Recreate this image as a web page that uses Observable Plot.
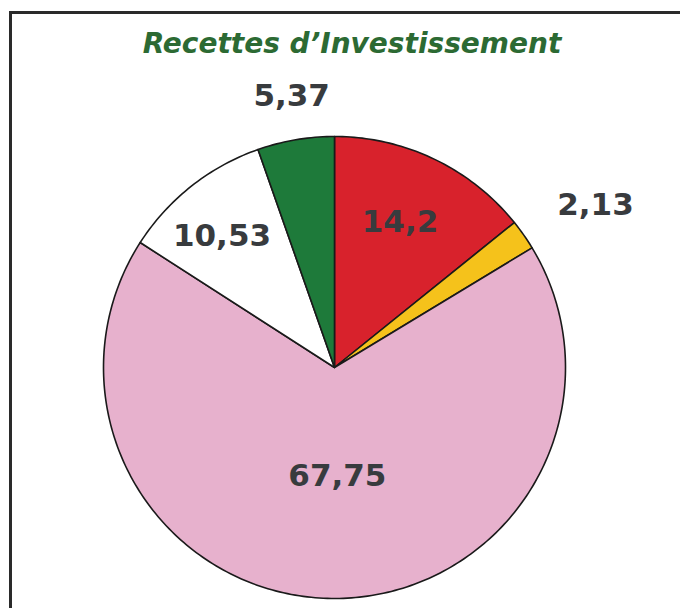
<!DOCTYPE html>
<html><head><meta charset="utf-8">
<script src="https://cdn.jsdelivr.net/npm/d3@7"></script>
<script src="https://cdn.jsdelivr.net/npm/@observablehq/plot@0.6"></script>
<style>
html,body{margin:0;padding:0;background:#fff;width:680px;height:608px;overflow:hidden}
#wrap{position:relative;width:680px;height:608px}
#frame{position:absolute;left:9px;top:11px;right:-10px;bottom:-10px;border-top:3px solid #2a2a2a;border-left:3px solid #2a2a2a}
#title{position:absolute;left:0;top:27px;width:704px;text-align:center;font:italic bold 28px "DejaVu Sans",sans-serif;color:#2c6a33}
#chart{position:absolute;left:0;top:70px}
</style></head>
<body><div id="wrap"><div id="frame"></div><div id="title">Recettes d’Investissement</div><div id="chart"></div></div>
<script>
// Data (clockwise from 12 o'clock)
const categories = ["A","B","C","D","E"];
const values = [14.2, 2.13, 67.75, 10.53, 5.37];
const labels = ["14,2","2,13","67,75","10,53","5,37"];
const colors = ["#d8222c","#f5c21b","#e7b1cd","#ffffff","#1e7a3a"];

// label placement (radius factor, angular nudge in degrees)
const labelRadius = [0.69, 1.33, 0.47, 0.75, 1.19];
const labelNudge = [-1.3, 3.2, -2.3, -2.2, 0.7];

const total = d3.sum(values);
const rad = Math.PI/180;
let acc = 0;
const slices = values.map((v,i)=>{
  const a0 = acc/total*360; acc += v; const a1 = acc/total*360;
  return {cat:categories[i], a0, a1, label:labels[i], color:colors[i], i};
});
const pts = [];
for (const s of slices){
  pts.push({cat:s.cat, x:0, y:0});
  const n = Math.max(2, Math.ceil(s.a1 - s.a0));
  for (let k=0;k<=n;k++){
    const a = (s.a0 + (s.a1-s.a0)*k/n)*rad;
    pts.push({cat:s.cat, x:Math.sin(a), y:Math.cos(a)});
  }
  pts.push({cat:s.cat, x:0, y:0});
}
const labs = slices.map(s=>{
  const a = ((s.a0+s.a1)/2 + labelNudge[s.i])*rad;
  const r = labelRadius[s.i];
  return {x:r*Math.sin(a), y:r*Math.cos(a), label:s.label};
});

const chart = Plot.plot({
  width:680, height:538, margin:0,
  x:{domain:[-1,1], range:[103,565], axis:null},
  y:{domain:[-1,1], range:[528,66], axis:null},
  color:{domain:categories, range:colors},
  marks:[
    Plot.line(pts,{x:"x", y:"y", z:"cat", fill:"cat", stroke:"#1a1a1a", strokeWidth:1.6, strokeLinejoin:"round", curve:"linear"}),
    Plot.text(labs,{x:"x", y:"y", text:"label", fontSize:31, fontWeight:"bold", fill:"#383b3e", fontFamily:"DejaVu Sans", textAnchor:"middle", lineAnchor:"middle"})
  ]
});
document.getElementById("chart").appendChild(chart);
</script></body></html>
